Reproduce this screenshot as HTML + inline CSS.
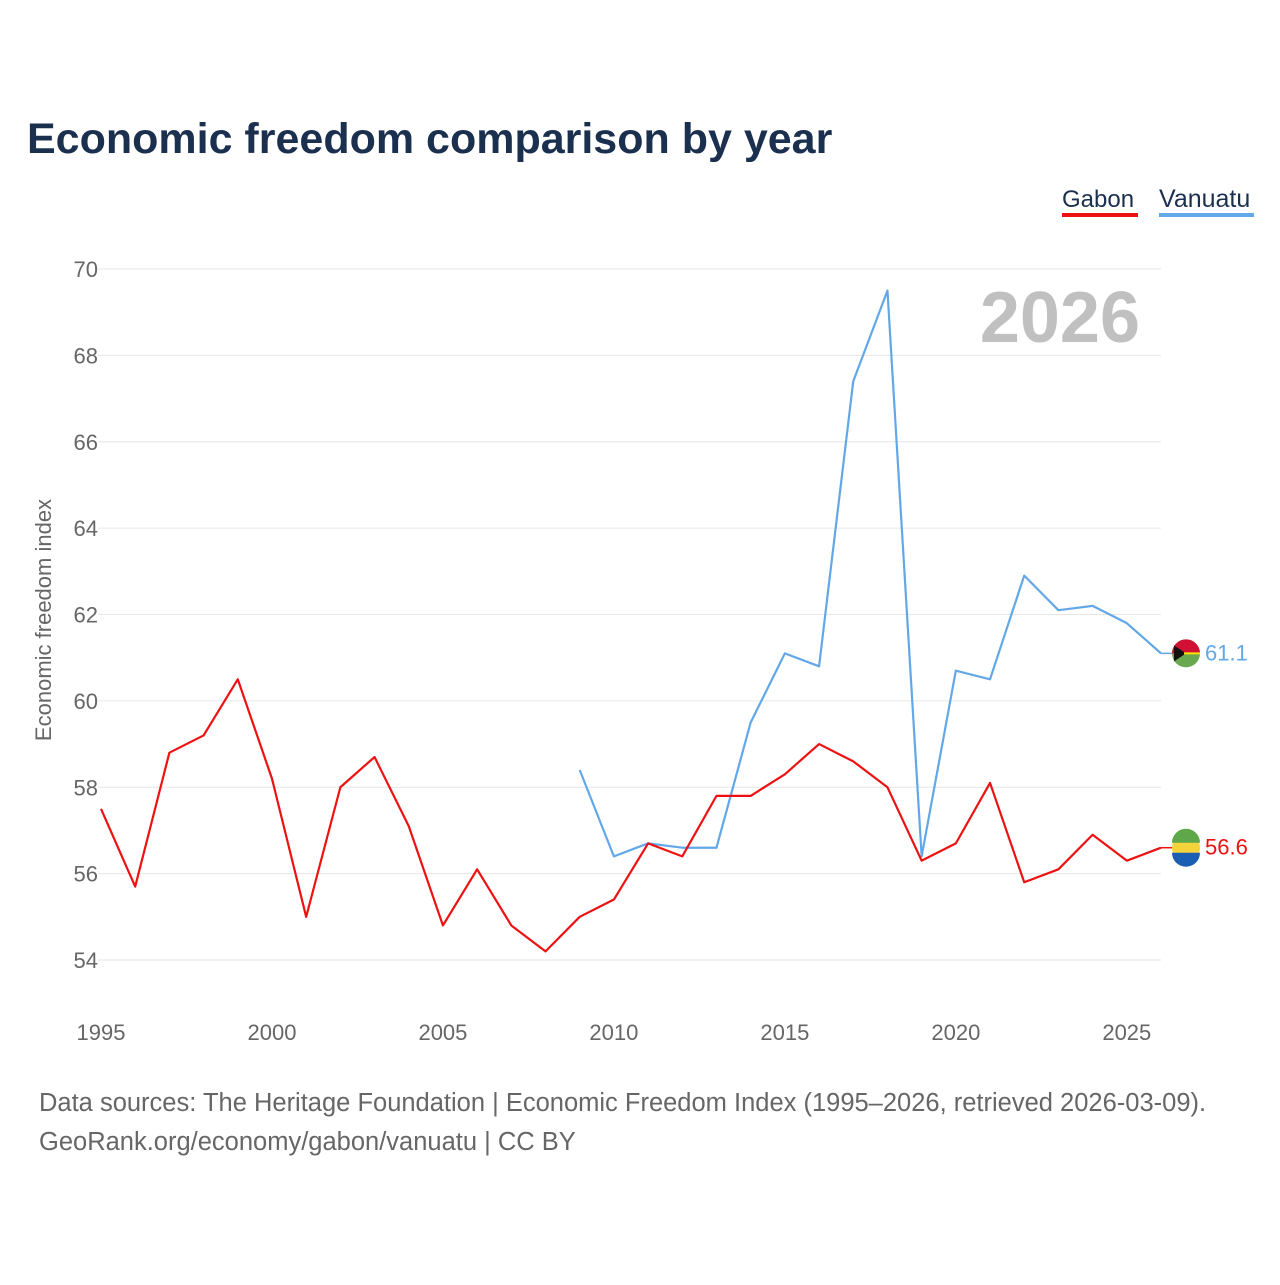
<!DOCTYPE html>
<html><head><meta charset="utf-8"><style>
body{margin:0;background:#fff;width:1280px;height:1280px;overflow:hidden;font-family:"Liberation Sans",sans-serif}
</style></head><body>
<svg id="chart" width="1280" height="1280" xmlns="http://www.w3.org/2000/svg">
<text x="27" y="153" font-size="43" font-weight="bold" fill="#1b2f4e">Economic freedom comparison by year</text>
<g><text x="1062" y="207" font-size="24" fill="#1b2f4e">Gabon</text><rect x="1062" y="213" width="76" height="4" fill="#ee1111"/></g>
<g><text x="1159" y="207" font-size="25" fill="#1b2f4e">Vanuatu</text><rect x="1159" y="213" width="95" height="4" fill="#62a8e8"/></g>
<text x="1140" y="342" font-size="72" font-weight="bold" fill="#c0c0c0" text-anchor="end">2026</text>
<text transform="translate(51,620) rotate(-90)" font-size="22" fill="#666" text-anchor="middle">Economic freedom index</text>
<g id="grid"></g><g id="series"></g>
<text x="39" y="1111" font-size="25.5" fill="#666">Data sources: The Heritage Foundation | Economic Freedom Index (1995–2026, retrieved 2026-03-09).</text>
<text x="39" y="1150" font-size="25.5" fill="#666">GeoRank.org/economy/gabon/vanuatu | CC BY</text>
</svg>
<script>
const gabonYears=[1995,1996,1997,1998,1999,2000,2001,2002,2003,2004,2005,2006,2007,2008,2009,2010,2011,2012,2013,2014,2015,2016,2017,2018,2019,2020,2021,2022,2023,2024,2025,2026];
const gabonValues=[57.5,55.7,58.8,59.2,60.5,58.2,55.0,58.0,58.7,57.1,54.8,56.1,54.8,54.2,55.0,55.4,56.7,56.4,57.8,57.8,58.3,59.0,58.6,58.0,56.3,56.7,58.1,55.8,56.1,56.9,56.3,56.6];
const vanuatuYears=[2009,2010,2011,2012,2013,2014,2015,2016,2017,2018,2019,2020,2021,2022,2023,2024,2025,2026];
const vanuatuValues=[58.4,56.4,56.7,56.6,56.6,59.5,61.1,60.8,67.4,69.5,56.4,60.7,60.5,62.9,62.1,62.2,61.8,61.1];
const yTicks=[54,56,58,60,62,64,66,68,70];
const xTicks=[1995,2000,2005,2010,2015,2020,2025];
const NS="http://www.w3.org/2000/svg";
const X=y=>101+(y-1995)*(1161-101)/31;
const Y=v=>960-(v-54)*(960-269)/16;
function mk(tag,attrs,parent){const e=document.createElementNS(NS,tag);for(const k in attrs)e.setAttribute(k,attrs[k]);parent.appendChild(e);return e;}
const grid=document.getElementById('grid'),ser=document.getElementById('series');
yTicks.forEach(t=>{
 const l=mk('line',{x1:98,x2:1161,y1:Y(t),y2:Y(t),stroke:'#e6e6e6','stroke-width':1},grid);
 
 
 const tx=mk('text',{x:98,y:Y(t)+8,'font-size':22,fill:'#666','text-anchor':'end'},grid);tx.textContent=t;
 
 
});
xTicks.forEach(t=>{
 const tx=mk('text',{x:X(t),y:1040,'font-size':22,fill:'#666','text-anchor':'middle'},grid);tx.textContent=t;
 
 
});
function line(years,vals,color,name){
 const p=mk('polyline',{points:years.map((y,i)=>X(y)+','+Y(vals[i])).join(' '),fill:'none',stroke:color,'stroke-width':2.2,'stroke-linejoin':'round'},ser);
 
 
 const lv=vals[vals.length-1],ly=Y(lv);
 mk('line',{x1:1161,x2:1172,y1:ly,y2:ly,stroke:color,'stroke-width':1.5},ser);
 const c=mk('circle',{cx:1186,cy:ly,r:14,fill:name=='gabon'?'#f5d33a':'#6aa84f'},ser);
 
 
 if(name=='gabon'){mk('path',{d:`M1172 ${ly-5} A14 14 0 0 1 1200 ${ly-5} Z`,fill:'#5fa84a'},ser);mk('path',{d:`M1172 ${ly+5} A14 14 0 0 0 1200 ${ly+5} Z`,fill:'#1a5fb4'},ser);}
 else{mk('path',{d:`M1172 ${ly} A14 14 0 0 1 1200 ${ly} Z`,fill:'#d21034'},ser);mk('path',{d:`M1174 ${ly-8} L1186 ${ly} L1174 ${ly+8} Z`,fill:'#111'},ser);mk('line',{x1:1184,x2:1200,y1:ly,y2:ly,stroke:'#fce300','stroke-width':2},ser);}
 const t=mk('text',{x:1205,y:ly+7,'font-size':22,fill:color},ser);t.textContent=lv.toFixed(1);
 
 
}
line(vanuatuYears,vanuatuValues,'#62a8e8','vanuatu');
line(gabonYears,gabonValues,'#ee1111','gabon');
</script>
</body></html>
